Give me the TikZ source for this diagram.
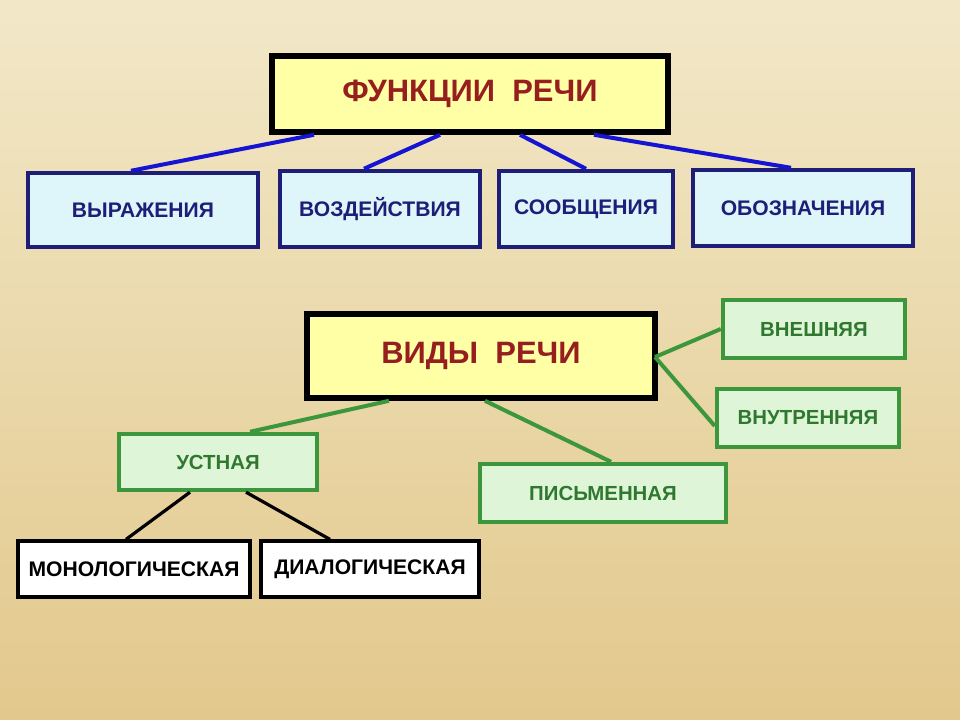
\documentclass[tikz,border=0pt]{standalone}
\usepackage{fontspec}
\setmainfont{Liberation Sans}
\usetikzlibrary{positioning}
\definecolor{bgtop}{RGB}{242,232,200}
\definecolor{bgbot}{RGB}{226,200,140}
\definecolor{titlefill}{RGB}{255,255,165}
\definecolor{titletext}{RGB}{150,30,30}
\definecolor{bluefill}{RGB}{222,246,250}
\definecolor{navy}{RGB}{30,30,120}
\definecolor{linkblue}{RGB}{20,20,210}
\definecolor{greenfill}{RGB}{222,246,215}
\definecolor{greenline}{RGB}{60,150,60}
\begin{document}
\begin{tikzpicture}[x=0.025cm,y=-0.025cm]
\tikzstyle{title}=[draw=black,line width=1.4mm,fill=titlefill,text=titletext,font=\bfseries\fontsize{22}{26}\selectfont,inner sep=0pt]
\tikzstyle{func}=[draw=navy,line width=1.1mm,fill=bluefill,text=navy,font=\bfseries\fontsize{15}{18}\selectfont,inner sep=0pt]
\tikzstyle{kind}=[draw=greenline,line width=1.1mm,fill=greenfill,text=greenline!80!black,font=\bfseries\fontsize{14.5}{17}\selectfont,inner sep=0pt]
\tikzstyle{sub}=[draw=black,line width=0.8mm,fill=white,font=\bfseries\fontsize{15}{18}\selectfont,inner sep=0pt]

%-- Background --
\shade[top color=bgtop,bottom color=bgbot] (0,0) rectangle (960,720);
\useasboundingbox (0,0) rectangle (960,720);

%-- Functions --
\node[title, minimum width=9.9cm, minimum height=1.9cm] (funcs) at (470,94) {ФУНКЦИИ\ \ РЕЧИ};
\node[func, minimum width=5.75cm, minimum height=1.85cm] (expr) at (143,210) {ВЫРАЖЕНИЯ};
\node[func, minimum width=5.0cm, minimum height=1.9cm] (infl) at (380,209) {ВОЗДЕЙСТВИЯ};
\node[func, minimum width=4.35cm, minimum height=1.9cm] (mess) at (586,209) {СООБЩЕНИЯ};
\node[func, minimum width=5.5cm, minimum height=1.9cm] (desig) at (803,208) {ОБОЗНАЧЕНИЯ};

%-- Kinds --
\node[title, minimum width=8.7cm, minimum height=2.1cm] (kinds) at (481,356) {ВИДЫ\ \ РЕЧИ};
\node[kind, minimum width=4.55cm, minimum height=1.45cm] (outer) at (814,329) {ВНЕШНЯЯ};
\node[kind, minimum width=4.55cm, minimum height=1.45cm] (inner) at (808,418) {ВНУТРЕННЯЯ};
\node[kind, minimum width=4.95cm, minimum height=1.4cm] (oral) at (218,462) {УСТНАЯ};
\node[kind, minimum width=6.15cm, minimum height=1.45cm] (written) at (603,493) {ПИСЬМЕННАЯ};
\node[sub, minimum width=5.8cm, minimum height=1.4cm] (mono) at (134,569) {МОНОЛОГИЧЕСКАЯ};
\node[sub, minimum width=5.45cm, minimum height=1.4cm] (dia) at (370,569) {ДИАЛОГИЧЕСКАЯ};

%-- Links --
\coordinate (kr) at (655,357);
\path[draw=linkblue, line width=1mm]
  ([xshift=-3.9cm]funcs.south) -- ([xshift=-0.3cm]expr.north)
  ([xshift=-0.75cm]funcs.south) -- ([xshift=-0.4cm]infl.north)
  ([xshift=1.25cm]funcs.south) -- ([xshift=0cm]mess.north)
  ([xshift=3.1cm]funcs.south) -- ([xshift=-0.3cm]desig.north);
\path[draw=greenline, line width=1mm]
  (kr) -- (outer.west)
  (kr) -- ([yshift=-0.2cm]inner.west)
  ([xshift=-2.3cm]kinds.south) -- ([xshift=0.8cm]oral.north)
  ([xshift=0.1cm]kinds.south) -- ([xshift=0.2cm]written.north);
\path[draw=black, line width=0.8mm]
  ([xshift=-0.7cm]oral.south) -- ([xshift=-0.2cm]mono.north)
  ([xshift=0.7cm]oral.south) -- ([xshift=-1cm]dia.north);
\end{tikzpicture}
\end{document}
